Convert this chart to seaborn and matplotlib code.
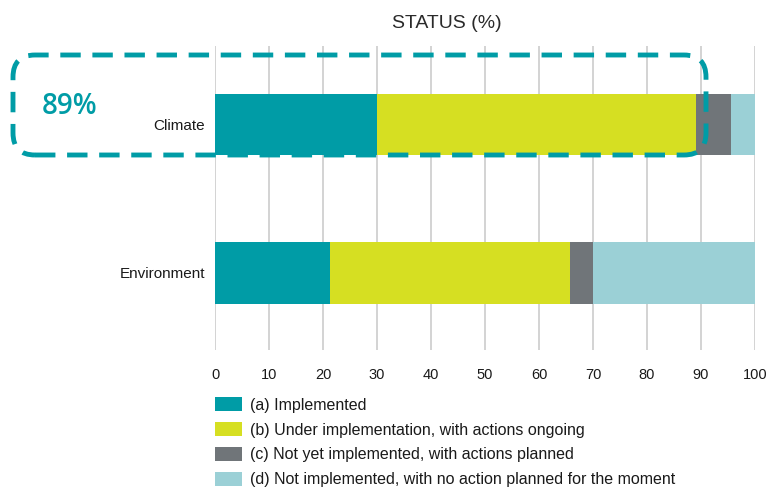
import numpy as np
import pandas as pd
import matplotlib
matplotlib.use("Agg")
import matplotlib.pyplot as plt
import matplotlib.patches as mpatches
from matplotlib.transforms import IdentityTransform
import seaborn as sns

categories = ["Climate", "Environment"]
implemented = [30.0, 21.3]
under_impl = [59.0, 44.4]
planned = [6.5, 4.3]
no_action = [4.5, 30.0]
series_labels = [
    "(a) Implemented",
    "(b) Under implementation, with actions ongoing",
    "(c) Not yet implemented, with actions planned",
    "(d) Not implemented, with no action planned for the moment",
]
colors = ["#009ca6", "#d6df22", "#707579", "#9bd0d6"]
xticks = [0, 10, 20, 30, 40, 50, 60, 70, 80, 90, 100]
highlight_label = "89%"

sns.set_theme(style="white")
plt.rcParams["font.family"] = ["Liberation Sans", "DejaVu Sans"]

fig = plt.figure(figsize=(7.67, 4.93), dpi=100)
ax = fig.add_axes([215 / 767, 1 - 350 / 493, 540 / 767, (350 - 46) / 493])

series = [implemented, under_impl, planned, no_action]
cum = np.cumsum(np.array(series), axis=0)
for i in range(len(series) - 1, -1, -1):
    df = pd.DataFrame({"cat": categories, "val": cum[i]})
    sns.barplot(data=df, y="cat", x="val", orient="h", color=colors[i],
                width=0.415, ax=ax, zorder=2, saturation=1, edgecolor="none")

ax.set_xlim(0, 100)
ax.set_ylim(1.52, -0.53)
ax.set_xticks(xticks)
ax.set_xticklabels([str(t) for t in xticks], fontsize=10.5, color="#1a1a1a")
ax.tick_params(axis="y", labelsize=11, colors="#1a1a1a", length=0, pad=7)
ax.tick_params(axis="x", length=0, pad=13)
ax.set_xlabel("")
ax.set_ylabel("")
for s in ax.spines.values():
    s.set_visible(False)
ax.xaxis.grid(True, color="#d0d0d0", linewidth=1.3, zorder=0)
ax.set_axisbelow(True)

fig.text(447 / 767, 1 - 23 / 493, "STATUS (%)", ha="center", va="center",
         fontsize=14, color="#2a2a2a")

# dashed rounded highlight box (pixel coordinates)
box = mpatches.FancyBboxPatch((13, 493 - 155), 693, 100,
                              boxstyle="round,pad=0,rounding_size=22",
                              fill=False, edgecolor="#009ca6", linewidth=3.5,
                              linestyle=(0, (4.2, 2.4)), transform=IdentityTransform())
fig.patches.append(box)
fig.text(70 / 767, 1 - 106 / 493, highlight_label, ha="center", va="center",
         fontsize=20, color="#009ca6", family=["Open Sans", "DejaVu Sans"],
         fontweight="semibold")

handles = [mpatches.Patch(facecolor=c, edgecolor="none") for c in colors]
fig.legend(handles, series_labels, loc="upper left",
           bbox_to_anchor=(215 / 767, 1 - 397 / 493), frameon=False,
           fontsize=11.5, handlelength=1.7, handleheight=1.0,
           labelspacing=0.58, handletextpad=0.5, borderaxespad=0,
           borderpad=0, labelcolor="#1a1a1a")

fig.savefig("out.png", dpi=100)
